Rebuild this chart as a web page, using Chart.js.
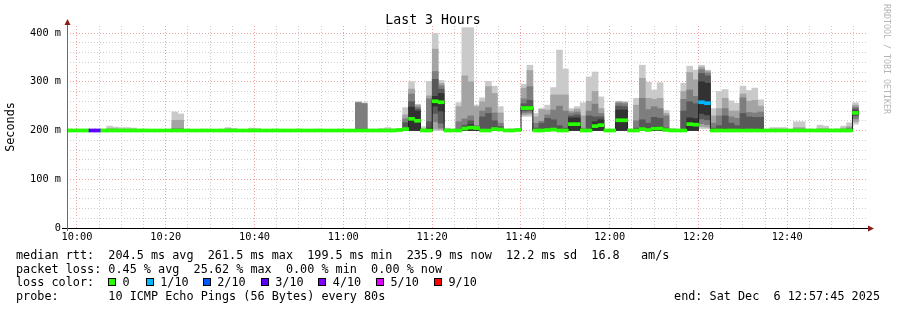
<!DOCTYPE html>
<html>
<head>
<meta charset="utf-8">
<script src="https://cdn.jsdelivr.net/npm/chart.js@4/dist/chart.umd.min.js"></script>
<style>
  html, body { margin: 0; padding: 0; background: #fff; }
  #wrap { position: relative; width: 897px; height: 310px; overflow: hidden; background: #fff; }
  #smoke { position: absolute; left: 0; top: 0; }
  .txt { position: absolute; font-family: 'DejaVu Sans Mono', monospace; font-size: 11.8px; line-height: 13.7px; white-space: pre; color: #000; }
  .box { position: absolute; top: 278px; width: 6px; height: 6px; border: 1px solid #000; }
  #mark { position: absolute; left: 883px; top: 4px; writing-mode: vertical-rl; font-family: 'DejaVu Sans Mono', monospace; font-size: 8.3px; line-height: 8px; color: #b4b4b4; white-space: pre; }
</style>
</head>
<body>
<div id="wrap">
  <canvas id="smoke" width="897" height="310"></canvas>
  <div id="mark">RRDTOOL / TOBI OETIKER</div>
  <div id="legend"></div>
</div>
<script>
const MONO = "'DejaVu Sans Mono', monospace";

// time axis: seconds from window start (09:57:45), one sample every 80 s
const windowSeconds = 10800;
const firstSample = -23;
const step = 80;
const firstTick = 135;          // 10:00
const timeLabels = ['10:00', '10:20', '10:40', '11:00', '11:20', '11:40', '12:00', '12:20', '12:40'];
const yLabels = ['0', '100 m', '200 m', '300 m', '400 m'];

// sorted ping rtts per sample (ms), ping1 = fastest, ping10 = slowest
const ping1 = [
  200,200,200,200,200,200,200,200,200,200, 200,200,200,200,200,200,200,200,200,200,
  200,200,200,200,200,200,200,200,200,200, 200,200,200,200,200,200,200,200,200,200,
  200,200,200,200,200,200,200,200,200,200, 200,200,200,200,200,200,200,200,200,200,
  200,200,200,200,200,200,200,200,200,200, 200,200,200,200,200,200,200,229,229,200,
  200,200,200,200,200,200,200,200,200,200, 200,200,200,200,200,200,200,200,200,200,
  200,200,200,200,200,200,200,204,204,200, 200,200,200,200,200,200,200,200,200,200,
  200,200,200,200,200,200,200,200,200,200, 200,200,200,213];
const ping2 = [
  200,200,200,200,200,200,200,200,200,200, 200,200,200,200,200,200,200,200,200,200,
  200,200,200,200,200,200,200,200,200,200, 200,200,200,200,200,200,200,200,200,200,
  200,200,200,200,200,200,200,200,200,200, 200,200,200,200,200,200,200,200,200,200,
  200,200,203,202,200,200,200,200,200,200, 200,200,200,200,200,200,200,232,233,200,
  200,200,200,200,200,200,200,200,200,200, 200,200,200,200,200,200,200,200,200,200,
  200,200,200,200,200,200,200,208,207,200, 200,200,200,200,200,200,200,200,200,200,
  200,200,200,200,200,200,200,200,200,200, 200,200,200,218];
const ping3 = [
  200,200,200,200,200,200,200,200,200,200, 200,200,200,200,200,200,200,200,200,200,
  200,200,200,200,200,200,200,200,200,200, 200,200,200,200,200,200,200,200,200,200,
  200,200,200,200,200,200,200,200,200,200, 200,200,200,200,200,200,200,200,200,200,
  200,200,218,205,200,200,200,200,200,200, 200,200,200,200,200,200,200,236,237,200,
  200,200,200,200,200,200,200,200,200,200, 200,200,200,200,200,200,200,200,200,200,
  200,200,200,200,200,200,200,214,212,200, 200,200,200,200,200,200,200,200,200,200,
  200,200,200,200,200,200,200,200,200,200, 200,200,200,224];
const ping4 = [
  200,200,200,200,200,200,200,200,200,200, 200,200,200,200,200,200,200,200,200,200,
  200,200,200,200,200,200,200,200,200,200, 200,200,200,200,200,200,200,200,200,200,
  200,200,200,200,200,200,200,200,200,200, 200,200,200,200,200,200,200,200,200,200,
  200,200,235,215,200,200,200,200,200,200, 200,200,200,200,200,200,200,240,241,200,
  200,200,200,200,200,200,200,200,200,200, 200,200,200,200,200,200,200,200,200,200,
  200,200,200,200,200,200,200,224,222,200, 200,200,200,200,200,200,200,200,200,200,
  200,200,200,200,200,200,200,200,200,200, 200,200,200,230];
const ping5 = [
  200,200,200,200,200,200,200,200,200,200, 200,200,200,200,200,200,200,200,200,200,
  200,200,200,200,200,200,200,200,200,200, 200,200,200,200,200,200,200,200,200,200,
  200,200,200,200,200,200,200,200,200,200, 200,200,200,200,200,200,200,200,200,200,
  200,200,250,240,200,200,200,200,200,200, 200,200,200,200,200,200,200,244,244,200,
  200,200,200,200,200,200,200,200,200,200, 200,200,200,200,200,200,200,200,200,200,
  200,200,200,200,200,200,200,235,232,200, 200,200,200,200,200,200,200,200,200,200,
  200,200,200,200,200,200,200,200,200,200, 200,200,200,233];
const ping6 = [
  200,200,200,200,200,200,200,200,200,200, 200,200,200,200,200,200,200,200,201,201,
  200,200,200,200,200,200,200,200,200,200, 200,200,200,200,200,200,200,200,200,200,
  200,200,200,200,200,200,200,200,200,201, 201,200,200,200,200,200,200,205,248,240,
  200,205,270,276,200,200,201,206,212,203, 201,203,205,202,200,200,201,248,247,201,
  201,202,203,201,201,226,226,200,201,218, 222,200,200,242,242,200,201,206,202,208,
  207,201,200,200,201,226,224,300,297,201, 201,203,201,201,203,202,202,203,200,200,
  200,200,200,200,200,200,200,200,200,200, 200,200,200,240];
const ping7 = [
  201,201,201,201,201,201,201,201,201,201, 201,201,201,201,200,200,200,201,202,202,
  201,200,200,201,200,200,201,201,201,200, 200,201,201,200,200,201,200,200,200,201,
  200,200,201,200,200,200,201,200,200,203, 203,201,201,201,201,201,201,216,259,244,
  201,218,305,285,201,201,203,211,220,206, 228,235,220,208,201,201,202,255,262,205,
  215,225,222,210,205,230,232,201,230,228, 228,201,201,250,249,201,205,222,215,227,
  225,205,201,201,240,259,255,317,312,205, 210,230,215,210,235,228,227,227,201,201,
  201,201,201,201,201,201,201,201,201,201, 201,201,202,244];
const ping8 = [
  201,201,201,201,201,201,201,202,202,202, 202,202,201,201,201,201,201,201,204,204,
  201,201,201,201,201,201,201,202,201,201, 201,202,202,201,201,201,201,201,201,201,
  201,201,201,201,201,201,201,201,201,257, 255,201,201,202,202,201,202,224,275,248,
  202,265,321,292,202,201,218,224,230,210, 240,247,236,215,201,202,202,265,290,215,
  219,232,242,250,240,236,238,205,240,254, 235,201,201,256,255,201,220,266,243,249,
  245,230,202,201,264,283,270,325,318,215, 230,245,228,225,267,237,236,238,201,202,
  202,202,201,203,203,201,201,202,202,201, 201,202,205,248];
const ping9 = [
  202,202,202,202,202,202,202,204,204,203, 203,203,202,202,201,201,201,202,221,221,
  202,201,201,202,201,201,202,204,203,201, 201,203,203,201,201,202,201,201,201,202,
  201,201,202,201,201,201,202,201,201,258, 256,202,202,203,203,202,203,232,285,252,
  204,271,367,297,203,202,249,312,300,249, 259,290,276,236,202,203,203,287,323,228,
  243,242,273,273,273,240,244,230,260,280, 245,202,202,259,258,202,252,307,266,264,
  266,235,203,202,280,319,304,330,322,230, 245,266,240,240,275,260,262,250,202,203,
  203,203,202,206,206,202,202,204,204,202, 202,205,208,252];
const ping10 = [
  203,203,203,203,203,203,203,209,207,206, 206,205,203,203,202,202,202,203,238,234,
  203,202,202,203,202,202,203,206,204,202, 202,205,204,202,202,203,202,202,202,203,
  202,202,203,202,202,202,203,202,202,259, 257,203,203,204,206,204,204,247,300,254,
  208,301,399,303,205,203,257,411,411,252, 267,301,291,249,203,203,204,295,334,235,
  245,252,288,365,326,245,249,257,310,320, 269,203,203,260,259,203,266,334,299,283,
  298,241,204,203,297,332,324,334,324,245, 280,284,261,256,291,282,287,263,203,206,
  206,206,203,218,218,203,203,211,209,203, 204,209,216,257];
const median = [
  200,200,200,200,200,200,200,200,200,200, 200,200,200,200,200,200,200,200,200,200,
  200,200,200,200,200,200,200,200,200,200, 200,200,200,200,200,200,200,200,200,200,
  200,200,200,200,200,200,200,200,200,200, 200,200,200,200,200,200,201,203,224,220,
  200,200,260,258,200,200,200,204,206,205, 200,200,203,202,200,200,201,246,246,200,
  200,201,202,200,200,213,213,200,200,209, 211,200,200,221,221,200,200,203,201,204,
  204,201,200,200,200,213,212,258,256,200, 200,200,200,200,200,200,200,200,200,200,
  200,200,200,200,200,200,200,200,200,200, 200,200,200,236];
// lost pings out of 10 per sample
const loss = [
  0,0,0,0,3,3,0,0,0,0, 0,0,0,0,0,0,0,0,0,0, 0,0,0,0,0,0,0,0,0,0, 0,0,0,0,0,0,0,0,0,0,
  0,0,0,0,0,0,0,0,0,0, 0,0,0,0,0,0,0,0,0,0, 0,0,0,0,0,0,0,0,0,0, 0,0,0,0,0,0,0,0,0,0,
  0,0,0,0,0,0,0,0,0,0, 0,0,0,0,0,0,0,0,0,0, 0,0,0,0,0,0,0,1,1,0, 0,0,0,0,0,0,0,0,0,0,
  0,0,0,0,0,0,0,0,0,0, 0,0,0,0];

const lossSteps = [0, 1, 2, 3, 4, 5, 9];
const lossNames = ['0', '1/10', '2/10', '3/10', '4/10', '5/10', '9/10'];
const lossColors = ['#26ff00', '#00b8ff', '#0059ff', '#5e00ff', '#7e00ff', '#dd00ff', '#ff0000'];

const smokeColors = ['#cacaca', '#a4a4a4', '#7e7e7e', '#585858', '#323232'];
const GRID_MINOR = '#cdcdcd';
const GRID_MAJOR = '#f2a0a0';

const center = (k) => firstSample + step * k + step / 2;
const colorForLoss = (l) => {
  let i = 0;
  while (i < lossSteps.length - 1 && l > lossSteps[i]) i++;
  return lossColors[i];
};

const lows = [ping1, ping2, ping3, ping4, ping5];
const highs = [ping10, ping9, ping8, ping7, ping6];

const datasets = lows.map((lo, b) => ({
  type: 'bar',
  data: lo.map((v, k) => ({ x: center(k), y: [v, highs[b][k]] })),
  backgroundColor: smokeColors[b],
  grouped: false,
  barPercentage: 1,
  categoryPercentage: 1,
  borderWidth: 0,
  order: 10 - b
}));

// median as a thin black step line
const medianPts = median.map((m, k) => ({ x: firstSample + step * k, y: m }));
medianPts.push({ x: firstSample + step * median.length, y: median[median.length - 1] });
datasets.push({
  type: 'line',
  data: medianPts,
  stepped: true,
  borderColor: '#202020',
  borderWidth: 1,
  pointRadius: 0,
  fill: false,
  order: 2
});

// median coloured by packet loss
const halfBand = 3.1;
datasets.push({
  type: 'bar',
  data: median.map((m, k) => ({ x: center(k), y: [m - halfBand, m + halfBand] })),
  backgroundColor: loss.map(colorForLoss),
  grouped: false,
  barPercentage: 1,
  categoryPercentage: 1,
  borderWidth: 0,
  order: 1
});

const axisArrows = {
  id: 'axisArrows',
  afterDraw(chart) {
    const { ctx, chartArea: a } = chart;
    const x0 = Math.round(a.left) + 0.5;
    const y0 = Math.round(a.bottom) + 0.5;
    ctx.save();
    ctx.lineWidth = 1;
    ctx.strokeStyle = '#000';
    ctx.beginPath();
    ctx.moveTo(a.left - 5, y0);
    ctx.lineTo(a.right + 3, y0);
    ctx.stroke();
    ctx.strokeStyle = '#6a6a6a';
    ctx.beginPath();
    ctx.moveTo(x0, a.bottom + 3);
    ctx.lineTo(x0, a.top - 2);
    ctx.stroke();
    ctx.fillStyle = '#8b1a1a';
    ctx.beginPath();
    ctx.moveTo(a.right + 2, y0 - 3);
    ctx.lineTo(a.right + 8, y0);
    ctx.lineTo(a.right + 2, y0 + 3);
    ctx.closePath();
    ctx.fill();
    ctx.beginPath();
    ctx.moveTo(x0 - 3, a.top - 1);
    ctx.lineTo(x0, a.top - 7);
    ctx.lineTo(x0 + 3, a.top - 1);
    ctx.closePath();
    ctx.fill();
    ctx.restore();
  }
};

new Chart(document.getElementById('smoke'), {
  type: 'bar',
  data: { datasets },
  options: {
    responsive: false,
    animation: false,
    events: [],
    layout: { padding: { left: 0, top: 0, right: 31, bottom: 62 } },
    plugins: {
      legend: { display: false },
      tooltip: { enabled: false },
      title: {
        display: true,
        text: 'Last 3 Hours',
        color: '#000',
        font: { family: MONO, size: 13.2, weight: 'normal', lineHeight: 1 },
        padding: { top: 14.3, bottom: -1.5 }
      }
    },
    scales: {
      x: {
        type: 'linear',
        min: 0,
        max: windowSeconds,
        offset: false,
        afterFit: (s) => { s.height = 20; },
        afterBuildTicks: (s) => {
          const t = [];
          for (let v = firstTick; v <= windowSeconds; v += 300) t.push({ value: v });
          s.ticks = t;
        },
        grid: {
          offset: false,
          drawTicks: false,
          lineWidth: 1,
          color: (c) => (c.tick && (c.tick.value - firstTick) % 1200 === 0 ? GRID_MAJOR : GRID_MINOR)
        },
        border: { display: false, dash: [1, 2] },
        ticks: {
          autoSkip: false,
          maxRotation: 0,
          padding: 3,
          color: '#000',
          font: { family: MONO, size: 10.3 },
          callback: (v) => {
            const i = (v - firstTick) / 1200;
            return Number.isInteger(i) ? timeLabels[i] : '';
          }
        }
      },
      y: {
        min: 0,
        max: 414.4,
        afterFit: (s) => { s.width = 67; },
        afterBuildTicks: (s) => {
          const t = [];
          for (let v = 0; v <= 400; v += 20) t.push({ value: v });
          s.ticks = t;
        },
        grid: {
          drawTicks: false,
          lineWidth: 1,
          color: (c) => (c.tick && c.tick.value % 100 === 0 ? GRID_MAJOR : GRID_MINOR)
        },
        border: { display: false, dash: [1, 2] },
        ticks: {
          autoSkip: false,
          padding: 6,
          color: '#000',
          font: { family: MONO, size: 10.3 },
          callback: (v) => (v % 100 === 0 ? yLabels[v / 100] : '')
        },
        title: {
          display: true,
          text: 'Seconds',
          color: '#000',
          font: { family: MONO, size: 11.8 },
          padding: { top: 4, bottom: 0 }
        }
      }
    }
  },
  plugins: [axisArrows]
});

// text legend below the graph
const legendLines = [
  'median rtt:  204.5 ms avg  261.5 ms max  199.5 ms min  235.9 ms now  12.2 ms sd  16.8   am/s',
  'packet loss: 0.45 % avg  25.62 % max  0.00 % min  0.00 % now',
  'loss color:',
  'probe:       10 ICMP Echo Pings (56 Bytes) every 80s'
];
const endText = 'end: Sat Dec  6 12:57:45 2025';
const boxX = [108, 145.7, 202.7, 260.7, 318.3, 376, 434];

const leg = document.getElementById('legend');
const lineTop = (i) => 248.8 + 13.7 * i;
legendLines.forEach((t, i) => {
  const d = document.createElement('div');
  d.className = 'txt';
  d.style.left = '16px';
  d.style.top = lineTop(i) + 'px';
  d.textContent = t;
  leg.appendChild(d);
});
const endDiv = document.createElement('div');
endDiv.className = 'txt';
endDiv.style.right = '17px';
endDiv.style.top = lineTop(3) + 'px';
endDiv.textContent = endText;
leg.appendChild(endDiv);
lossNames.forEach((name, i) => {
  const b = document.createElement('div');
  b.className = 'box';
  b.style.left = boxX[i] + 'px';
  b.style.background = lossColors[i];
  leg.appendChild(b);
  const t = document.createElement('div');
  t.className = 'txt';
  t.style.left = (boxX[i] + 14.5) + 'px';
  t.style.top = lineTop(2) + 'px';
  t.textContent = name;
  leg.appendChild(t);
});
</script>
</body>
</html>
